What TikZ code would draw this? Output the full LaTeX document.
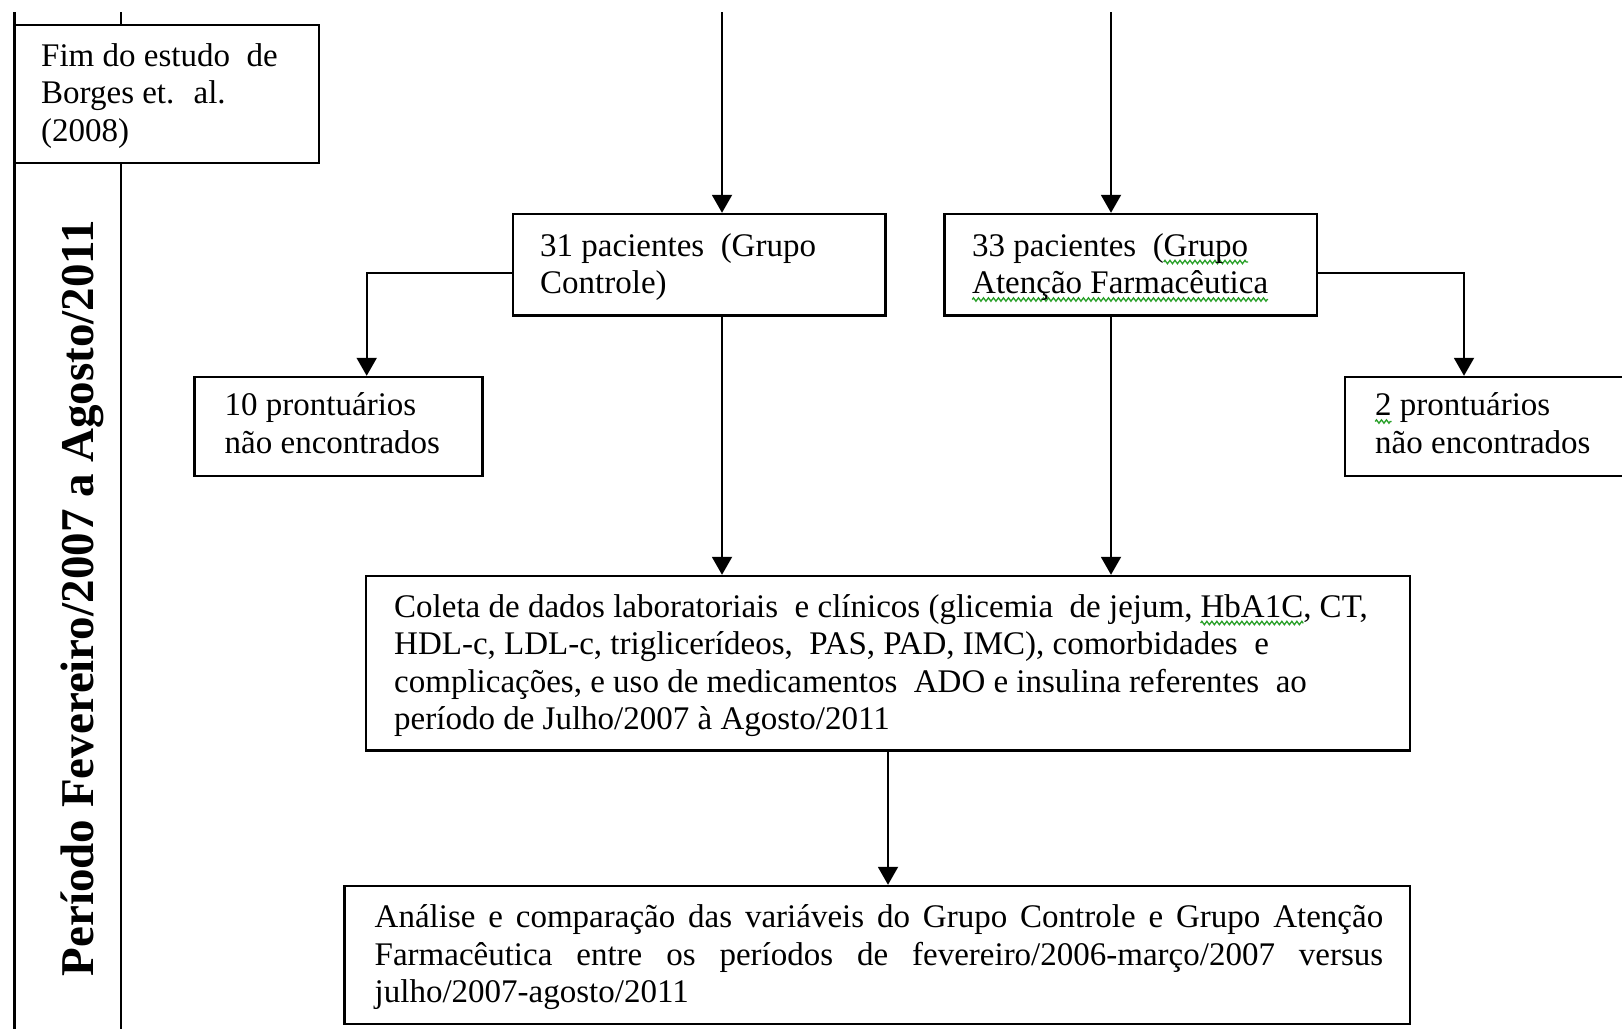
\documentclass[tikz,border=0pt]{standalone}
\usepackage{fontspec}
\setmainfont{Liberation Serif}
\usetikzlibrary{arrows.meta,decorations.pathmorphing}
\definecolor{wavegreen}{RGB}{40,160,40}
% green wavy underline (spell-check style)
\newlength\gwlen
\newcommand\gwave[1]{\setbox0\hbox{#1}\setlength\gwlen{\wd0}%
  \tikz[overlay, x=1pt, y=1pt, baseline=0pt]
    \draw[wavegreen, line width=1.3pt, decorate,
          decoration={zigzag, segment length=5pt, amplitude=1.7pt}]
      (0pt,-6pt) -- ++(\gwlen,0pt);%
  \box0\relax}
\tikzset{
  box/.style={draw, line width=2.4pt, fill=white, inner sep=0pt},
  % anchored at the baseline of the last line
  txt/.style={anchor=base west, align=left, inner sep=0pt,
              font=\fontsize{33}{37.5}\selectfont},
  arr/.style={line width=2pt, -{Triangle[length=18pt,width=20pt]}},
  band/.style={line width=2.6pt}
}
\begin{document}
\begin{tikzpicture}[x=1pt,y=-1pt]
\useasboundingbox (0,0) rectangle (1622,1028);
\clip (0,0) rectangle (1622,1028);

% left time band
\draw[band] (14.5,12) -- (14.5,1040);
\draw[band] (121,12) -- (121,1040);
\node[rotate=90, anchor=base, inner sep=0pt,
      font=\fontsize{47}{50}\selectfont\bfseries] (period) at (93,598)
  {Período Fevereiro/2007 a Agosto/2011};

% boxes
\node[box, minimum width=304.5pt, minimum height=138pt] (fim) at (166.75,94) {};
\node[txt] (fimt) at (41,141) {Fim do estudo~ de\\Borges et.~ al.\\(2008)};

\node[box, minimum width=372.5pt, minimum height=101.5pt] (c31) at (699.25,264.75) {};
\node[txt] (c31t) at (540,293.5) {31 pacientes~ (Grupo\\Controle)};

\node[box, minimum width=372.5pt, minimum height=101.5pt] (c33) at (1130.75,264.75) {};
\node[txt] (c33t) at (972,293.5) {33 pacientes~ (\gwave{Grupo}\\\gwave{Atenção Farmacêutica}};

\node[box, minimum width=288pt, minimum height=99pt] (b10) at (338.5,426.5) {};
\node[txt] (b10t) at (224.5,453) {10 prontuários\\não encontrados};

\node[box, minimum width=295pt, minimum height=99pt] (b2) at (1492.5,426.5) {};
\node[txt] (b2t) at (1375,453) {\gwave{2} prontuários\\não encontrados};

\node[box, minimum width=1044pt, minimum height=174.5pt] (col) at (888,663.25) {};
\node[txt] (colt) at (394,729.5)
  {Coleta de dados laboratoriais~ e clínicos (glicemia~ de jejum, \gwave{HbA1C}, CT,\\
   HDL-c, LDL-c, triglicerídeos,~ PAS, PAD, IMC), comorbidades~ e\\
   complicações, e uso de medicamentos~ ADO e insulina referentes~ ao\\
   período de Julho/2007 à Agosto/2011};

\node[box, minimum width=1065.5pt, minimum height=138pt] (ana) at (877.25,955) {};
\node[txt] (anat) at (374.5,1002.5)
  {\makebox[1008.5pt][s]{Análise e comparação das variáveis do Grupo Controle e Grupo Atenção}\\
   \makebox[1008.5pt][s]{Farmacêutica entre os períodos de fevereiro/2006-março/2007 versus}\\
   julho/2007-agosto/2011};

% incoming lines from above
\coordinate (t1) at (722,12);
\coordinate (t2) at (1111,12);
\draw[arr] (t1) -- (t1 |- c31.north);
\draw[arr] (t2) -- (t2 |- c33.north);

% side branches
\draw[arr] ([yshift=-8.25pt]c31.west) -| ([xshift=28.2pt]b10.north);
\draw[arr] ([yshift=-8.25pt]c33.east) -| ([xshift=-28.5pt]b2.north);

% down to data collection
\draw[arr] (t1 |- c31.south) -- (t1 |- col.north);
\draw[arr] (t2 |- c33.south) -- (t2 |- col.north);

% down to analysis
\draw[arr] (col.south) -- (col.south |- ana.north);
\end{tikzpicture}
\end{document}
